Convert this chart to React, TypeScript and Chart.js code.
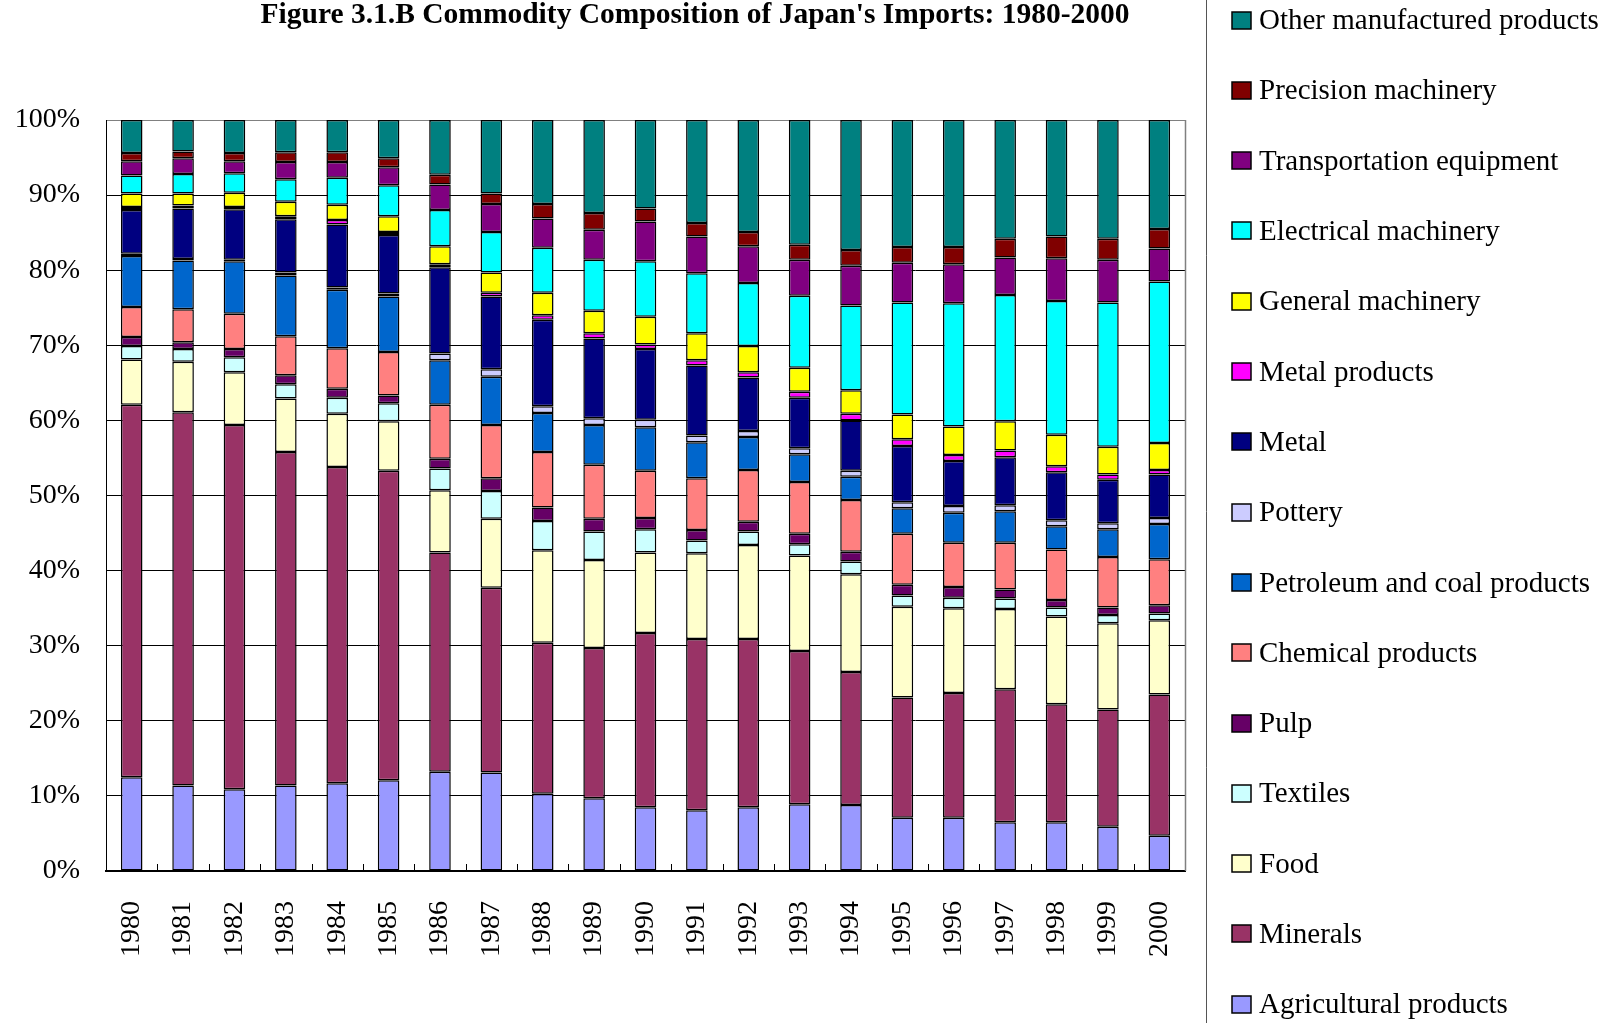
import React, { useEffect, useRef } from 'react';
import { Chart, registerables } from 'chart.js';

Chart.register(...registerables);

const TITLE = "Figure 3.1.B Commodity Composition of Japan's Imports: 1980-2000";

const years = ['1980', '1981', '1982', '1983', '1984', '1985', '1986', '1987', '1988', '1989', '1990',
  '1991', '1992', '1993', '1994', '1995', '1996', '1997', '1998', '1999', '2000'];

const yTicks = [0, 10, 20, 30, 40, 50, 60, 70, 80, 90, 100];

const agricultural = [12.5, 11.4, 10.9, 11.4, 11.7, 12.1, 13.2, 13.1, 10.3, 9.7, 8.5, 8.1, 8.5, 8.9, 8.8, 7.1, 7.1, 6.5, 6.5, 5.9, 4.7];
const minerals = [49.6, 49.7, 48.5, 44.4, 42.1, 41.2, 29.2, 24.6, 20.1, 20.0, 23.2, 22.8, 22.4, 20.4, 17.7, 16.0, 16.6, 17.7, 15.7, 15.6, 18.8];
const food = [6.0, 6.7, 7.0, 7.1, 7.1, 6.6, 8.3, 9.2, 12.3, 11.7, 10.7, 11.4, 12.5, 12.7, 13.0, 12.1, 11.3, 10.7, 11.7, 11.5, 9.9];
const textiles = [1.8, 1.7, 2.0, 1.9, 2.1, 2.4, 2.9, 3.7, 3.9, 3.8, 3.1, 1.7, 1.8, 1.5, 1.7, 1.5, 1.4, 1.4, 1.2, 1.1, 0.9];
const pulp = [1.2, 0.9, 1.1, 1.2, 1.2, 1.0, 1.3, 1.7, 1.8, 1.7, 1.5, 1.4, 1.3, 1.4, 1.3, 1.4, 1.4, 1.2, 1.0, 1.0, 1.1];
const chemical = [4.0, 4.4, 4.7, 5.2, 5.4, 5.8, 7.2, 7.1, 7.4, 7.2, 6.3, 6.9, 6.9, 6.9, 6.9, 6.8, 5.9, 6.2, 6.7, 6.7, 6.1];
const petroleum = [6.8, 6.5, 7.0, 8.1, 7.8, 7.4, 5.9, 6.4, 5.2, 5.3, 5.8, 4.8, 4.4, 3.7, 3.1, 3.4, 4.0, 4.2, 3.1, 3.7, 4.7];
const pottery = [0.3, 0.2, 0.2, 0.4, 0.3, 0.4, 0.9, 1.0, 0.9, 0.9, 1.0, 0.9, 0.8, 0.8, 0.8, 0.8, 0.9, 0.8, 0.8, 0.8, 0.8];
const metal = [5.8, 6.7, 6.7, 7.1, 8.4, 7.8, 11.5, 9.7, 11.5, 10.6, 9.4, 9.3, 7.1, 6.7, 6.7, 7.5, 6.0, 6.4, 6.4, 5.8, 5.8];
const metalProducts = [0.4, 0.4, 0.3, 0.4, 0.6, 0.4, 0.4, 0.5, 0.6, 0.7, 0.6, 0.7, 0.7, 0.8, 0.9, 0.9, 0.8, 0.9, 0.8, 0.7, 0.6];
const generalMachinery = [1.8, 1.6, 1.9, 1.9, 2.0, 2.1, 2.4, 2.7, 3.0, 3.0, 3.7, 3.6, 3.5, 3.2, 3.1, 3.3, 3.8, 3.9, 4.2, 3.7, 3.6];
const electricalMachinery = [2.4, 2.6, 2.6, 3.0, 3.6, 4.1, 4.8, 5.4, 6.0, 6.8, 7.4, 8.0, 8.4, 9.6, 11.3, 14.9, 16.4, 16.8, 17.8, 19.2, 21.5];
const transportation = [1.9, 2.1, 1.6, 2.3, 2.1, 2.4, 3.4, 3.7, 3.9, 4.0, 5.3, 4.9, 4.9, 4.8, 5.3, 5.3, 5.2, 5.0, 5.7, 5.7, 4.4];
const precision = [1.1, 0.9, 1.1, 1.3, 1.3, 1.2, 1.3, 1.4, 1.9, 2.2, 1.7, 1.8, 1.9, 2.0, 2.1, 2.1, 2.3, 2.5, 2.9, 2.8, 2.6];
const otherManufactured = [4.4, 4.2, 4.4, 4.3, 4.3, 5.1, 7.3, 9.8, 11.2, 12.4, 11.8, 13.7, 14.9, 16.6, 17.3, 16.9, 16.9, 15.8, 15.5, 15.8, 14.5];

const seriesNames = ['Agricultural products', 'Minerals', 'Food', 'Textiles', 'Pulp', 'Chemical products',
  'Petroleum and coal products', 'Pottery', 'Metal', 'Metal products', 'General machinery',
  'Electrical machinery', 'Transportation equipment', 'Precision machinery', 'Other manufactured products'];
const seriesValues = [agricultural, minerals, food, textiles, pulp, chemical, petroleum, pottery, metal,
  metalProducts, generalMachinery, electricalMachinery, transportation, precision, otherManufactured];
const seriesColors = ['#9999FF', '#993366', '#FFFFCC', '#CCFFFF', '#660066', '#FF8080', '#0066CC', '#CCCCFF',
  '#000080', '#FF00FF', '#FFFF00', '#00FFFF', '#800080', '#800000', '#008080'];

const SERIF = '"Liberation Serif", "Times New Roman", serif';

const decorPlugin = {
  id: 'decor',
  afterDraw(chart: any) {
    const { ctx, chartArea: a, scales } = chart;
    ctx.save();
    // right border of plot area
    ctx.strokeStyle = '#808080';
    ctx.lineWidth = 1.5;
    ctx.beginPath();
    ctx.moveTo(a.right + 0.5, a.top);
    ctx.lineTo(a.right + 0.5, a.bottom);
    ctx.stroke();
    // inward category tick marks
    const xs = scales.x;
    const n = chart.data.labels.length;
    ctx.strokeStyle = '#000';
    ctx.lineWidth = 1;
    ctx.beginPath();
    for (let i = 0; i < n - 1; i++) {
      const x = Math.round((xs.getPixelForValue(i) + xs.getPixelForValue(i + 1)) / 2) + 0.5;
      ctx.moveTo(x, a.bottom);
      ctx.lineTo(x, a.bottom - 7);
    }
    ctx.stroke();
    // title
    ctx.fillStyle = '#000';
    ctx.font = 'bold 29.5px ' + SERIF;
    ctx.textAlign = 'center';
    ctx.textBaseline = 'alphabetic';
    ctx.fillText(TITLE, 695, 23);
    // legend border
    ctx.strokeStyle = '#555';
    ctx.beginPath();
    ctx.moveTo(1206.5, 0);
    ctx.lineTo(1206.5, chart.height);
    ctx.stroke();
    // legend entries (reverse order)
    ctx.font = '29px ' + SERIF;
    ctx.textAlign = 'left';
    ctx.textBaseline = 'middle';
    const ds = chart.data.datasets;
    for (let k = 0; k < ds.length; k++) {
      const d = ds[ds.length - 1 - k];
      const cy = 20.5 + k * 70.3;
      ctx.fillStyle = d.backgroundColor;
      ctx.fillRect(1232, Math.round(cy - 9), 19, 17);
      ctx.strokeStyle = '#000';
      ctx.lineWidth = 1.5;
      ctx.strokeRect(1232, Math.round(cy - 9), 19, 17);
      ctx.fillStyle = '#000';
      ctx.fillText(d.label, 1259, cy + 1);
    }
    ctx.restore();
  },
};

export default function App() {
  const ref = useRef<HTMLCanvasElement>(null);
  useEffect(() => {
    if (!ref.current) return;
    const chart = new Chart(ref.current, {
      type: 'bar',
      data: {
        labels: years,
        datasets: seriesNames.map((name, i) => ({
          label: name,
          data: seriesValues[i],
          backgroundColor: seriesColors[i],
          borderColor: '#000',
          borderWidth: 1.5,
          borderSkipped: false,
          categoryPercentage: 1,
          barPercentage: 0.42,
        })),
      },
      options: {
        animation: false,
        responsive: false,
        maintainAspectRatio: false,
        layout: { padding: { top: 120, right: 424, left: 0, bottom: 0 } },
        plugins: {
          legend: { display: false },
          title: { display: false },
          tooltip: { enabled: false },
        },
        scales: {
          x: {
            stacked: true,
            grid: { display: false },
            border: { display: true, color: '#000', width: 2 },
            ticks: {
              color: '#000',
              font: { family: SERIF, size: 28 },
              minRotation: 90,
              maxRotation: 90,
              autoSkip: false,
              padding: 22,
            },
            afterFit: (s: any) => { s.height = 152; },
          },
          y: {
            stacked: true,
            min: 0,
            max: 100,
            afterBuildTicks: (s: any) => { s.ticks = yTicks.map((v) => ({ value: v })); },
            grid: {
              color: (c: any) => (c.tick && c.tick.value === 100 ? '#808080' : '#000'),
              lineWidth: 1,
              drawTicks: false,
            },
            border: { display: true, color: '#000', width: 1 },
            ticks: {
              color: '#000',
              font: { family: SERIF, size: 28 },
              padding: 26,
              callback: (v: any) => v + '%',
            },
            afterFit: (s: any) => { s.width = 106; },
          },
        },
      },
      plugins: [decorPlugin],
    });
    return () => chart.destroy();
  }, []);
  return (
    <div style={{ position: 'fixed', left: 0, top: 0, width: 1609, height: 1023, background: '#fff' }}>
      <canvas ref={ref} width={1609} height={1023} style={{ display: 'block', width: 1609, height: 1023 }} />
    </div>
  );
}
